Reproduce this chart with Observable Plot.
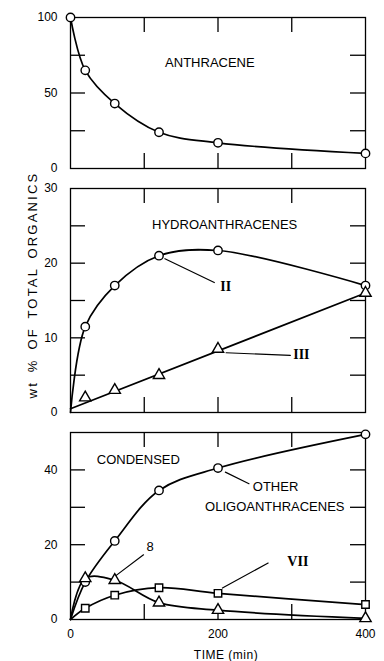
<!DOCTYPE html>
<html><head><meta charset="utf-8">
<script src="https://cdn.jsdelivr.net/npm/d3@7"></script>
<script src="https://cdn.jsdelivr.net/npm/@observablehq/plot@0.6"></script>
<style>
body{margin:0;background:#fff}
#chart{position:relative;width:384px;height:661px;font-family:"Liberation Sans",Arial,sans-serif;color:#000}
#chart svg{display:block}
.lbl{position:absolute;white-space:nowrap;font-size:13px;color:#000}
</style>
</head><body><div id="chart"></div>
<script>
// ---- data (time in min, values in wt % of total organics) ----
const anthraceneTime = [0, 20, 60, 120, 200, 400];
const anthracene = [100, 65, 43, 24, 17, 10];
const sampleTime = [20, 60, 120, 200, 400];
const hydroII = [11.5, 17, 21, 21.7, 17];
const hydroIII = [2, 3, 5, 8.5, 16];
const hydroIIIFitTime = [0, 400];
const hydroIIIFit = [0.5, 16];
const otherOligo = [10, 21, 34.5, 40.5, 49.5];
const compound8 = [11, 10.5, 4.5, 2.5, 0.3];
const compoundVII = [3, 6.5, 8.5, 7, 4];
const originTime = 0, originValue = 0;

const xMinorTicks = [100, 200, 300];
const xTickLabels = [0, 200, 400];
const p1Ticks = [25, 50, 75], p1Labels = [0, 50, 100];
const p2Ticks = [5, 10, 15, 20, 25], p2Labels = [0, 10, 20, 30];
const p3Ticks = [10, 20, 30, 40], p3Labels = [0, 20, 40];

// annotations (data coordinates)
const p1Notes = [{t: 189, v: 70, text: "ANTHRACENE"}];
const p2Notes = [{t: 209, v: 25.2, text: "HYDROANTHRACENES"}];
const p2Roman = [{t: 203, v: 16.9, text: "II"}, {t: 302, v: 7.7, text: "III"}];
const p2Arrows = [{t1: 195, v1: 17.4, t2: 128, v2: 20.6, bend: 25},
                  {t1: 298, v1: 7.65, t2: 211, v2: 8.0, bend: 6}];
const p3Notes = [{t: 92, v: 42.6, text: "CONDENSED"}, {t: 278, v: 35.5, text: "OTHER"},
                 {t: 277, v: 30.2, text: "OLIGOANTHRACENES"}, {t: 108, v: 19.3, text: "8"}];
const p3Roman = [{t: 294, v: 15.6, text: "VII"}];
const p3Arrows = [{t1: 99, v1: 17.3, t2: 62, v2: 11.8, bend: -5},
                  {t1: 242, v1: 36.3, t2: 210, v2: 39.4, bend: -15},
                  {t1: 268, v1: 15.1, t2: 206, v2: 8.4, bend: -10}];

const zip = (ts, vs) => ts.map((t, i) => ({t, v: vs[i]}));
const withOrigin = (vs) => [{t: originTime, v: originValue}, ...zip(sampleTime, vs)];

const W = 384, ML = 70, MR = 19, TICK = 15;
const PW = W - ML - MR;
const ink = "#000000";

function panel({height, mt, mb, yDomain, yTicks, yLabels, xLabels, marks}) {
  const PH = height - mt - mb;
  return Plot.plot({
    width: W, height, marginLeft: ML, marginRight: MR, marginTop: mt, marginBottom: mb,
    x: {domain: [0, 400], axis: null},
    y: {domain: yDomain, axis: null},
    style: {fontFamily: "Liberation Sans, Arial, sans-serif", fontSize: "12px", color: ink, background: "transparent", overflow: "visible"},
    marks: [
      Plot.frame({stroke: ink, strokeWidth: 1.3}),
      Plot.tickY(yTicks, {y: d => d, insetRight: PW - TICK, stroke: ink, strokeWidth: 1.3}),
      Plot.tickY(yTicks, {y: d => d, insetLeft: PW - TICK, stroke: ink, strokeWidth: 1.3}),
      Plot.tickX(xMinorTicks, {x: d => d, insetBottom: PH - TICK, stroke: ink, strokeWidth: 1.3}),
      Plot.tickX(xMinorTicks, {x: d => d, insetTop: PH - TICK, stroke: ink, strokeWidth: 1.3}),
      Plot.axisY(yLabels, {tickSize: 0, tickPadding: 13, fontSize: 12, label: null}),
      xLabels ? Plot.axisX(xLabels, {tickSize: 0, tickPadding: 10, fontSize: 12, label: null}) : null,
      ...marks
    ]
  });
}

const lineOpts = {x: "t", y: "v", curve: "catmull-rom", stroke: ink, strokeWidth: 1.7};
const dotOpts = (symbol) => ({x: "t", y: "v", symbol, r: 4.2, fill: "white", stroke: ink, strokeWidth: 1.4});
const noteOpts = {x: "t", y: "v", text: "text", fontSize: 13, fill: ink};
const romanOpts = {x: "t", y: "v", text: "text", fontSize: 14, fontFamily: "Liberation Serif, serif", fontWeight: "bold", fill: ink, textAnchor: "start"};
const arrowOpts = (data) => Plot.arrow(data, {x1: "t1", y1: "v1", x2: "t2", y2: "v2", bend: d => d.bend, stroke: ink, strokeWidth: 1.2, headLength: 7});

const chart = document.getElementById("chart");

const anthData = zip(anthraceneTime, anthracene);
chart.appendChild(panel({
  height: 178, mt: 17, mb: 10, yDomain: [0, 100], yTicks: p1Ticks, yLabels: p1Labels,
  marks: [
    Plot.line(anthData, lineOpts),
    Plot.dot(anthData, dotOpts("circle")),
    Plot.text(p1Notes, {...noteOpts, letterSpacing: "0.6px"})
  ]
}));

chart.appendChild(panel({
  height: 244, mt: 10, mb: 10, yDomain: [0, 30], yTicks: p2Ticks, yLabels: p2Labels,
  marks: [
    Plot.line(withOrigin(hydroII), lineOpts),
    Plot.line(zip(hydroIIIFitTime, hydroIIIFit), {x: "t", y: "v", stroke: ink, strokeWidth: 1.7}),
    Plot.dot(zip(sampleTime, hydroII), dotOpts("circle")),
    Plot.dot(zip(sampleTime, hydroIII), dotOpts("triangle")),
    Plot.text(p2Notes, {...noteOpts, letterSpacing: "0.5px"}),
    Plot.text(p2Roman, romanOpts),
    arrowOpts(p2Arrows)
  ]
}));

chart.appendChild(panel({
  height: 239, mt: 10, mb: 42, yDomain: [0, 50], yTicks: p3Ticks, yLabels: p3Labels, xLabels: xTickLabels,
  marks: [
    Plot.line(withOrigin(otherOligo), lineOpts),
    Plot.line(withOrigin(compound8), lineOpts),
    Plot.line(withOrigin(compoundVII), lineOpts),
    Plot.dot(zip(sampleTime, otherOligo), dotOpts("circle")),
    Plot.dot(zip(sampleTime, compound8), dotOpts("triangle")),
    Plot.dot(zip(sampleTime, compoundVII), dotOpts("square")),
    Plot.text(p3Notes, noteOpts),
    Plot.text(p3Roman, romanOpts),
    arrowOpts(p3Arrows)
  ]
}));

const xTitle = document.createElement("div");
xTitle.className = "lbl";
xTitle.textContent = "TIME (min)";
xTitle.style.cssText = "left:226px;top:655px;transform:translate(-50%,-50%);font-size:12px;letter-spacing:0.5px";
chart.appendChild(xTitle);

const yTitle = document.createElement("div");
yTitle.className = "lbl";
yTitle.textContent = "wt % OF TOTAL ORGANICS";
yTitle.style.cssText = "left:32px;top:285px;transform:translate(-50%,-50%) rotate(-90deg);font-size:13px;letter-spacing:2.2px;word-spacing:3px";
chart.appendChild(yTitle);
</script>
</body></html>
